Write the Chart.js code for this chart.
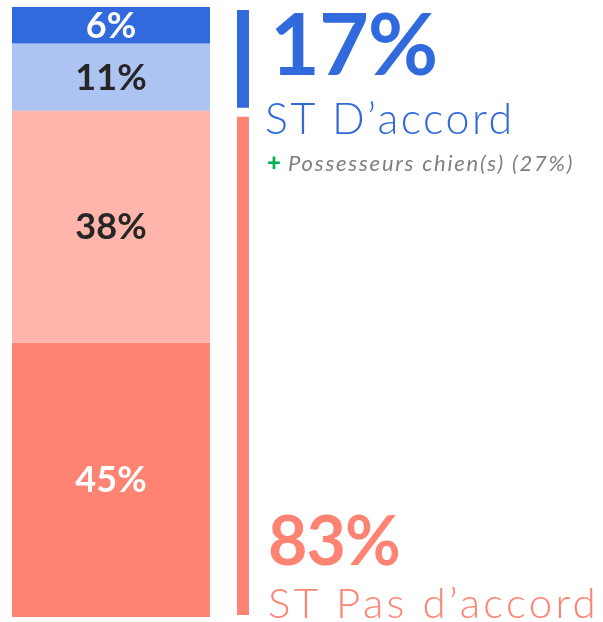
<!DOCTYPE html>
<html lang="fr">
<head>
<meta charset="UTF-8">
<title>ST D’accord / ST Pas d’accord</title>
<script src="https://cdn.jsdelivr.net/npm/chart.js"></script>
<style>
  body { margin: 0; background: #fff; }
  #wrap { width: 603px; height: 622px; }
</style>
</head>
<body>
<div id="wrap"><canvas id="graph"></canvas></div>
<script>
// Répartition des réponses (barre empilée, de haut en bas)
const segmentValues = [6, 11, 38, 45];
const segmentColors = ['#306ADD', '#ADC3F1', '#FFB5AB', '#FF8373'];
const segmentTextColors = ['#ffffff', '#262626', '#262626', '#ffffff'];

// Sous-totaux
const totalLabels = ['ST D’accord', 'ST Pas d’accord'];
const totalValues = [17, 83];
const totalColors = ['#306ADD', '#FF8373'];

const noteText = 'Possesseurs chien(s) (27%)';

const FONT = 'Lato, "Open Sans", sans-serif';

const datasets = [];
segmentValues.forEach((v, i) => {
  datasets.push({
    label: v + '%',
    data: [v, null],
    backgroundColor: segmentColors[i],
    borderWidth: 0,
    barPercentage: 1.5,
    categoryPercentage: 1,
    clip: false
  });
});
// traits verticaux des sous-totaux, séparés par une bordure blanche
totalValues.forEach((v, i) => {
  datasets.push({
    label: totalLabels[i],
    data: [null, v],
    backgroundColor: totalColors[i],
    borderColor: '#ffffff',
    borderWidth: i === 0 ? { top: 3, bottom: 3, left: 3, right: 3 } : { top: 6, bottom: 2, left: 3, right: 3 },
    borderSkipped: false,
    barPercentage: 0.136,
    categoryPercentage: 1,
    clip: false
  });
});

function spaced(ctx, text, x, y, spacing) {
  ctx.letterSpacing = spacing + 'px';
  ctx.fillText(text, x, y);
  ctx.letterSpacing = '0px';
}

const textPlugin = {
  id: 'textPlugin',
  afterDatasetsDraw(chart) {
    const ctx = chart.ctx;
    ctx.save();

    // pourcentages dans la barre
    ctx.textAlign = 'center';
    ctx.textBaseline = 'middle';
    segmentValues.forEach((v, i) => {
      const bar = chart.getDatasetMeta(i).data[0];
      ctx.font = 'bold 36px ' + FONT;
      ctx.fillStyle = segmentTextColors[i];
      ctx.fillText(v + '%', bar.x, (bar.y + bar.base) / 2 + 1);
    });

    ctx.textAlign = 'left';
    ctx.textBaseline = 'alphabetic';

    // bloc "D'accord", aligné sur le haut du trait
    const b1 = chart.getDatasetMeta(4).data[1];
    const top1 = Math.min(b1.y, b1.base);
    const x1 = b1.x + 29;
    ctx.fillStyle = totalColors[0];
    ctx.font = 'bold 86px ' + FONT;
    spaced(ctx, totalValues[0] + '%', x1 - 2, top1 + 68, -1);
    ctx.font = '300 43px ' + FONT;
    spaced(ctx, totalLabels[0], x1 - 7, top1 + 127, 2.5);

    ctx.fillStyle = '#00B050';
    ctx.font = '900 24px ' + FONT;
    ctx.fillText('+', x1 - 5, top1 + 164);
    ctx.fillStyle = '#7F7F7F';
    ctx.font = 'italic 400 22px ' + FONT;
    spaced(ctx, noteText, x1 + 16, top1 + 164, 1.8);

    // bloc "Pas d'accord", aligné sur le bas du trait
    const b2 = chart.getDatasetMeta(5).data[1];
    const bottom2 = Math.max(b2.y, b2.base);
    ctx.fillStyle = totalColors[1];
    ctx.font = 'bold 68px ' + FONT;
    spaced(ctx, totalValues[1] + '%', x1 - 4, bottom2 - 52, -1);
    ctx.font = '300 42px ' + FONT;
    spaced(ctx, totalLabels[1], x1 - 4, bottom2 + 1, 3.3);

    ctx.restore();
  }
};

new Chart(document.getElementById('graph'), {
  type: 'bar',
  data: { labels: ['', ''], datasets: datasets },
  options: {
    responsive: true,
    maintainAspectRatio: false,
    animation: false,
    layout: { padding: { left: 45, right: 294, top: 7, bottom: 5 } },
    plugins: { legend: { display: false }, tooltip: { enabled: false } },
    scales: {
      x: { stacked: true, display: false, offset: true },
      y: { stacked: true, display: false, min: 0, max: 100, reverse: true }
    }
  },
  plugins: [textPlugin]
});
</script>
</body>
</html>
